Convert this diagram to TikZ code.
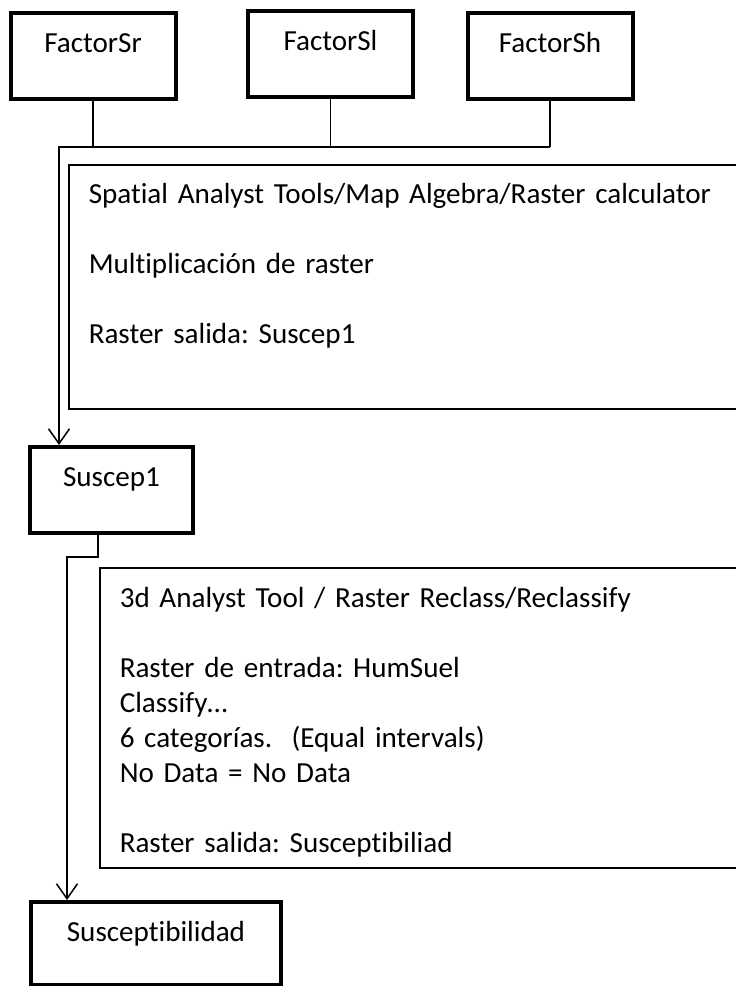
\documentclass[tikz,border=0pt]{standalone}
\usepackage{fontspec}
\setmainfont{Carlito}[Ligatures=NoCommon]
\frenchspacing
\usetikzlibrary{arrows.meta}
\def\gapsep{35pt}

\begin{document}
\begin{tikzpicture}[x=1pt,y=-1pt,line width=1.5pt,
    >={Straight Barb[length=15pt,width=21pt]},
    font=\fontsize{29.1}{35}\selectfont]
      \tikzstyle{factor}=[draw,line width=4pt,minimum width=165pt,inner xsep=0pt,inner ysep=0pt,text height=39pt,text depth=47pt,anchor=north]
      \tikzstyle{tool}=[draw,line width=1.5pt,minimum width=680pt,anchor=north west]
      \tikzstyle{note}=[align=left,text width=640pt,inner sep=0pt,anchor=base west]
      \tikzstyle{link}=[line width=1.5pt]

      \fill[white] (0,0) rectangle (736,986);
      \useasboundingbox (0,0) rectangle (736,986);
      \clip (0,0) rectangle (736,986);

      % Draw the input rasters
      \foreach \name / \x / \y in {Sr/93/11, Sl/330.5/9, Sh/550/11}
          \node[factor] (F-\name) at (\x,\y) {Factor\name};

      % Draw the tool boxes
      \node[tool,minimum height=244pt] (T-1) at (68,164) {};
      \node[tool,minimum height=300pt] (T-2) at (99,567) {};

      % Write the steps of each tool
      \node[note] (N-1) at (88,203) {Spatial Analyst Tools/Map Algebra/Raster calculator\\[\gapsep]
          Multiplicación de raster\\[\gapsep]
          Raster salida: Suscep1};
      \node[note] (N-2) at (119,607) {3d Analyst Tool / Raster Reclass/Reclassify\\[\gapsep]
          Raster de entrada: HumSuel\\
          Classify…\\
          6 categorías.~ (Equal intervals)\\
          No Data = No Data\\[\gapsep]
          Raster salida: Susceptibiliad};

      % Draw the output rasters
      \node[factor,minimum width=163pt] (S-1) at (111.5,445) {Suscep1};
      \node[factor,minimum width=250pt,text depth=44pt] (S-2) at (156,900) {Susceptibilidad};

      % Join the input rasters
      \coordinate (bus) at (0,147);
      \draw[link] (F-Sr.south |- bus) -- (F-Sh.south |- bus);
      \foreach \name in {Sr,Sl,Sh}
          \draw[link] (F-\name.south) -- (F-\name.south |- bus);

      % Lead each result to the next raster
      \coordinate (b1) at (59,147);
      \draw[link,->] (F-Sr.south |- bus) -- (b1) -- (b1 |- S-1.north);
      \coordinate (b2) at (67,557);
      \draw[link,->] (S-1.south -| 98,0) |- (b2) -- (b2 |- S-2.north);
  \end{tikzpicture}
\end{document}
